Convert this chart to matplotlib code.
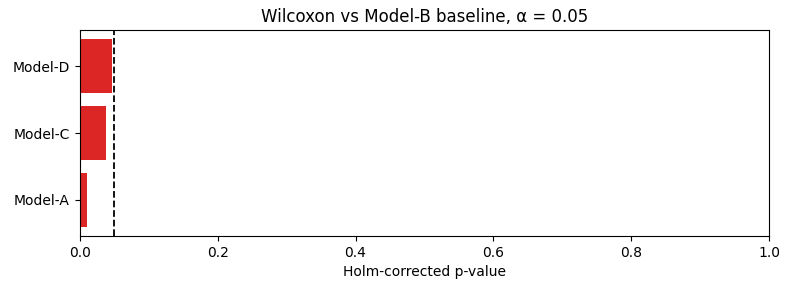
import matplotlib
matplotlib.use("Agg")
import matplotlib.pyplot as plt

models = ["Model-A", "Model-C", "Model-D"]
p_holm = [0.010, 0.038, 0.047]
alpha = 0.05

fig, ax = plt.subplots(figsize=(7.89, 2.89), dpi=100)
ax.barh(models, p_holm, color="#dc2626")
ax.axvline(alpha, color="black", linestyle="--", linewidth=1.3)
ax.set_xlim(0, 1)
ax.set_xlabel("Holm-corrected p-value")
ax.set_title("Wilcoxon vs Model-B baseline, α = 0.05")
fig.subplots_adjust(left=0.101, right=0.975, top=0.896, bottom=0.183)
fig.savefig("out.png")
